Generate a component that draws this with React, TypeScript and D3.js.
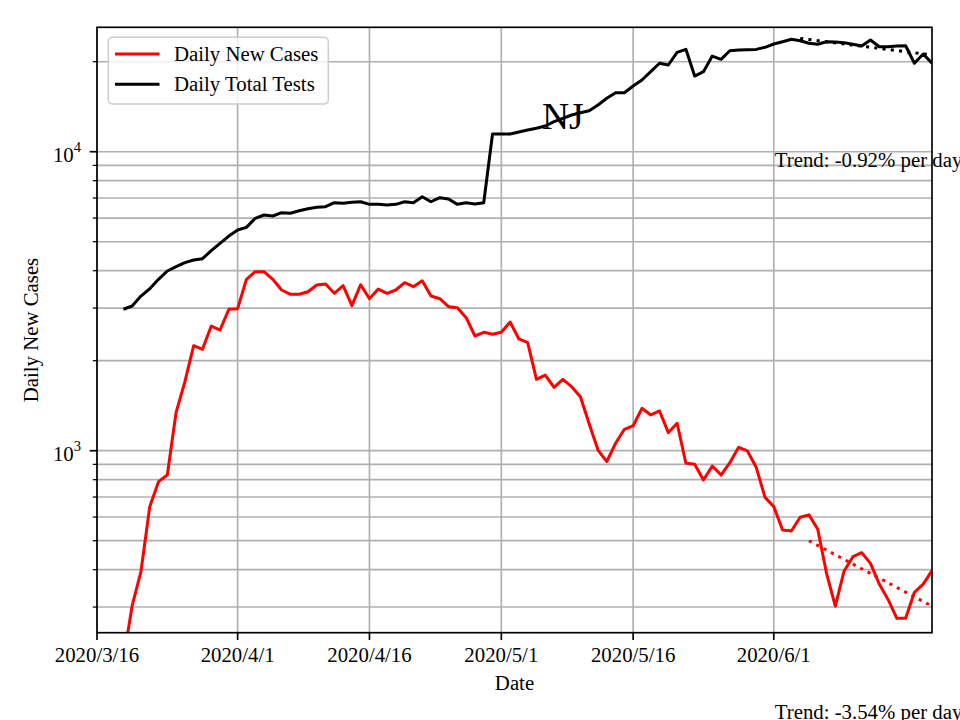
import React from 'react';
import * as d3 from 'd3';

// ---------- data ----------
const seriesStart = '2020-03-19';

const dailyNewCases = [
  200, 303, 394, 650, 788, 829, 1344, 1701, 2245, 2183, 2612, 2533, 2972, 2986,
  3743, 3969, 3969, 3743, 3447, 3335, 3335, 3402, 3583, 3611, 3361, 3564, 3055,
  3591, 3224, 3473, 3361, 3447, 3647, 3536, 3703, 3291, 3224, 3031, 3008, 2785,
  2419, 2489, 2451, 2489, 2694, 2364, 2297, 1733, 1791, 1629, 1733, 1637, 1516,
  1228, 1005, 919, 1059, 1179, 1212, 1386, 1317, 1358, 1149, 1235, 908, 901, 798,
  889, 829, 912, 1026, 998, 880, 698, 650, 543, 539, 599, 610, 546, 389, 302, 396,
  442, 456, 420, 358, 318, 275, 275, 336, 358, 397,
];

const dailyTotalTests = [
  2972, 3048, 3291, 3481, 3743, 3990, 4125, 4255, 4344, 4388, 4666, 4939, 5224,
  5471, 5586, 5988, 6142, 6095, 6252, 6223, 6349, 6448, 6516, 6546, 6751, 6720,
  6772, 6803, 6668, 6668, 6631, 6668, 6803, 6751, 7071, 6803, 7017, 6946, 6668,
  6751, 6684, 6751, 11460, 11460, 11460, 11640, 11820, 11976, 12190, 12600, 12930,
  13270, 13500, 13710, 14330, 15090, 15750, 15750, 16590, 17370, 18520, 19760,
  19500, 21500, 22000, 17910, 18520, 20890, 20370, 21770, 21880, 21940, 21990,
  22350, 22920, 23330, 23770, 23510, 23050, 22870, 23330, 23270, 23140, 22870,
  22570, 23640, 22450, 22450, 22570, 22620, 19760, 21220, 19760,
];

const trendCasesDates = ['2020-06-05', '2020-06-19'];
const trendCasesValues = [500, 302];
const trendTestsDates = ['2020-06-04', '2020-06-19'];
const trendTestsValues = [23930, 21060];

const xTickDates = ['2020-03-16', '2020-04-01', '2020-04-16', '2020-05-01', '2020-05-16', '2020-06-01'];
const xTickLabels = ['2020/3/16', '2020/4/1', '2020/4/16', '2020/5/1', '2020/5/16', '2020/6/1'];
const xDomain = ['2020-03-16', '2020-06-19'];
const yDomain = [246.2, 26070];
const yMajorTicks = [1000, 10000];
const yMajorExponents = ['3', '4'];

const trendLabels = ['Trend: -0.92% per day', 'Trend: -3.54% per day'];
const trendLabelDates = ['2020-06-01', '2020-06-01'];
const trendLabelValues = [8890, 126.7];

const legendLabels = ['Daily New Cases', 'Daily Total Tests'];
const seriesColors = ['#ff0000', '#000000'];

// ---------- helpers ----------
const parseDate = (s: string) => {
  const [yy, mm, dd] = s.split('-').map(Number);
  return new Date(yy, mm - 1, dd);
};
const dayAfter = (start: Date, i: number) =>
  new Date(start.getFullYear(), start.getMonth(), start.getDate() + i);

type Pt = { date: Date; value: number };

const FONT = "'Liberation Serif', 'Times New Roman', serif";

export default function App() {
  const left = 97, right = 932, top = 27.3, bottom = 632.7;

  const x = d3.scaleTime()
    .domain(xDomain.map(parseDate))
    .range([left, right]);
  const y = d3.scaleLog().domain(yDomain).range([bottom, top]);

  const start = parseDate(seriesStart);
  const casesPts: Pt[] = dailyNewCases.map((v, i) => ({ date: dayAfter(start, i), value: v }));
  const testsPts: Pt[] = dailyTotalTests.map((v, i) => ({ date: dayAfter(start, i), value: v }));
  const trendC: Pt[] = trendCasesDates.map((d, i) => ({ date: parseDate(d), value: trendCasesValues[i] }));
  const trendT: Pt[] = trendTestsDates.map((d, i) => ({ date: parseDate(d), value: trendTestsValues[i] }));

  const line = d3.line<Pt>().x((d) => x(d.date)).y((d) => y(d.value));

  const allYTicks = y.ticks(20).filter((t) => t >= yDomain[0] && t <= yDomain[1]);
  const isMajor = (t: number) => Math.abs(Math.log10(t) - Math.round(Math.log10(t))) < 1e-9;

  const gridColor = '#b0b0b0';
  const spineW = 1.67;
  const fs = 20.8;

  return (
    <div style={{ position: 'absolute', left: 0, top: 0 }}>
      <svg width={960} height={720} style={{ display: 'block', background: '#fff' }} fontFamily={FONT}>
        <defs>
          <clipPath id="plotClip">
            <rect x={left} y={top} width={right - left} height={bottom - top} />
          </clipPath>
        </defs>
        <rect x={0} y={0} width={960} height={720} fill="#fff" />

        {/* grid */}
        <g stroke={gridColor} strokeWidth={1.67}>
          {allYTicks.map((t) => (
            <line key={'gy' + t} x1={left} x2={right} y1={y(t)} y2={y(t)} />
          ))}
          {xTickDates.map((d) => (
            <line key={'gx' + d} x1={x(parseDate(d))} x2={x(parseDate(d))} y1={top} y2={bottom} />
          ))}
        </g>

        {/* data */}
        <g clipPath="url(#plotClip)" fill="none" strokeLinejoin="round">
          <path d={line(casesPts) || ''} stroke={seriesColors[0]} strokeWidth={3} />
          <path d={line(testsPts) || ''} stroke={seriesColors[1]} strokeWidth={3} />
          <path d={line(trendC) || ''} stroke={seriesColors[0]} strokeWidth={3} strokeDasharray="3.1 5.2" />
          <path d={line(trendT) || ''} stroke={seriesColors[1]} strokeWidth={3} strokeDasharray="3.1 5.2" />
        </g>

        {/* spines */}
        <rect x={left} y={top} width={right - left} height={bottom - top} fill="none" stroke="#000" strokeWidth={spineW} />

        {/* x ticks */}
        <g>
          {xTickDates.map((d, i) => {
            const xx = x(parseDate(d));
            return (
              <g key={'xt' + d}>
                <line x1={xx} x2={xx} y1={bottom} y2={bottom + 7.3} stroke="#000" strokeWidth={spineW} />
                <text x={xx} y={662} textAnchor="middle" fontSize={fs} fill="#000">{xTickLabels[i]}</text>
              </g>
            );
          })}
        </g>

        {/* y ticks */}
        <g>
          {allYTicks.map((t) => {
            const yy = y(t);
            const major = isMajor(t);
            return (
              <line key={'yt' + t} x1={left - (major ? 7.3 : 4.2)} x2={left} y1={yy} y2={yy}
                stroke="#000" strokeWidth={major ? spineW : 1.25} />
            );
          })}
          {yMajorTicks.map((t, i) => (
            <text key={'yl' + t} x={81} y={y(t) + 10.6} textAnchor="end" fontSize={fs} fill="#000">
              10<tspan dy={-10.6} fontSize={14.6}>{yMajorExponents[i]}</tspan>
            </text>
          ))}
        </g>

        {/* axis labels */}
        <text x={(left + right) / 2} y={690} textAnchor="middle" fontSize={fs} fill="#000">Date</text>
        <text transform={`translate(38,${(top + bottom) / 2}) rotate(-90)`} textAnchor="middle" fontSize={fs} fill="#000">
          Daily New Cases
        </text>

        {/* title-ish label */}
        <text x={x(parseDate('2020-05-08'))} y={y(11880)} textAnchor="middle" fontSize={37.5} fill="#000">NJ</text>

        {/* trend labels */}
        {trendLabels.map((t, i) => (
          <text key={'tl' + i} x={x(parseDate(trendLabelDates[i])) + 1} y={y(trendLabelValues[i])} fontSize={fs} fill="#000">
            {t}
          </text>
        ))}

        {/* legend */}
        <g>
          <rect x={108.3} y={37.3} width={220} height={66.7} rx={4.2} ry={4.2}
            fill="#fff" fillOpacity={0.8} stroke="#cccccc" strokeWidth={1.5} />
          {legendLabels.map((lab, i) => {
            const ly = 54 + i * 30.3;
            return (
              <g key={'lg' + i}>
                <line x1={115} x2={159.5} y1={ly} y2={ly} stroke={seriesColors[i]} strokeWidth={3} />
                <text x={174} y={ly + 6.9} fontSize={fs} fill="#000">{lab}</text>
              </g>
            );
          })}
        </g>
      </svg>
    </div>
  );
}
